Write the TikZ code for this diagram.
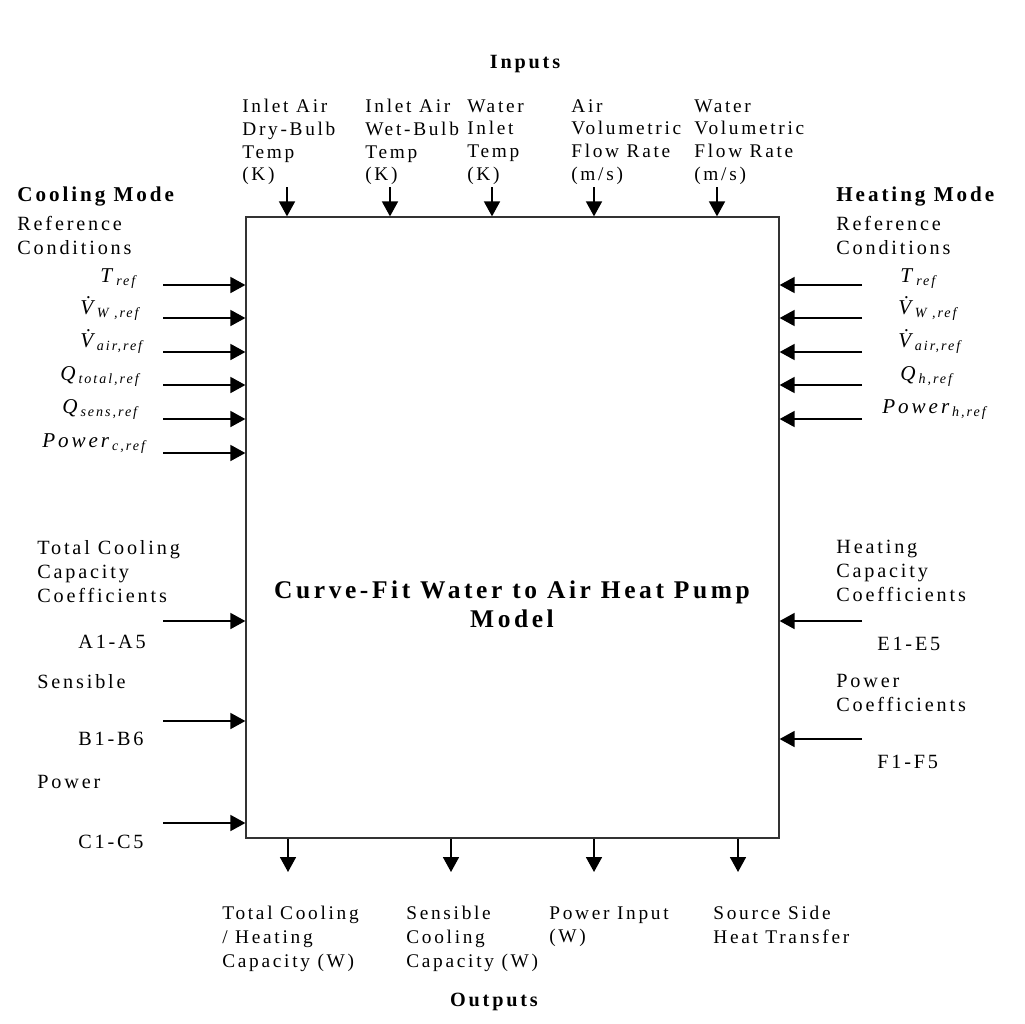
\documentclass[tikz,border=0pt]{standalone}
\usepackage{fontspec}
\setmainfont[LetterSpace=14]{Liberation Serif}
\usetikzlibrary{arrows.meta}
\newcommand{\sym}[2]{\textit{#1}\textsubscript{\textit{#2}}}
\newcommand{\vdt}[1]{\textit{V̇}\kern-3pt\textsubscript{\textit{#1}}}
\tikzset{
	feed/.style={draw=black, line width=0.35mm, -{Triangle[length=3mm,width=3.2mm]}},
	lbl/.style={anchor=north west, align=left, inner sep=0pt, font=\fontsize{11}{13.6}\selectfont},
	toplbl/.style={lbl, font=\fontsize{11}{12.9}\selectfont},
	coef/.style={lbl, font=\fontsize{11.5}{13.6}\selectfont},
	head/.style={anchor=north west, inner sep=0pt, font=\fontsize{12}{13.6}\selectfont\bfseries},
	sym/.style={anchor=base west, inner sep=0pt, font=\fontsize{12}{14}\selectfont},
}
\begin{document}
\begin{tikzpicture}[x=0.2mm, y=-0.2mm]
	\useasboundingbox (0,0) rectangle (1025,1023);
	\node[draw=black!80, line width=0.25mm, minimum width=106.6mm, minimum height=124.2mm, inner sep=0] (hp) at (512.5,527.5) {};
	\node[anchor=north, align=center, inner sep=0pt, font=\fontsize{14.5}{16.8}\selectfont\bfseries] (title) at (512,580) {Curve-Fit Water to Air Heat Pump\\Model};
	% inputs on top
	\node[anchor=north, inner sep=0pt, font=\fontsize{11.5}{13.6}\selectfont\bfseries] (inputs) at (525,55) {Inputs};
	\node[toplbl] (db) at (242,99) {Inlet Air\\Dry-Bulb\\Temp\\(K)};
	\node[toplbl] (wb) at (365,99) {Inlet Air\\Wet-Bulb\\Temp\\(K)};
	\node[toplbl] (wt) at (467,99) {Water\\Inlet\\Temp\\(K)};
	\node[toplbl] (af) at (571,99) {Air\\Volumetric\\Flow Rate\\(m/s)};
	\node[toplbl] (wf) at (694,99) {Water\\Volumetric\\Flow Rate\\(m/s)};
	\coordinate (i1) at (287,187);
	\coordinate (i2) at (390,187);
	\coordinate (i3) at (492,187);
	\coordinate (i4) at (594,187);
	\coordinate (i5) at (717,187);
	\draw[feed] (i1) -- (i1 |- hp.north);
	\draw[feed] (i2) -- (i2 |- hp.north);
	\draw[feed] (i3) -- (i3 |- hp.north);
	\draw[feed] (i4) -- (i4 |- hp.north);
	\draw[feed] (i5) -- (i5 |- hp.north);
	% cooling mode reference conditions
	\node[head] (cool) at (17,187) {Cooling Mode};
	\node[coef] (coolref) at (17,216) {Reference\\Conditions};
	\node[sym] (ct) at (100,282) {\sym{T}{ref}};
	\node[sym] (cvw) at (80,314) {\vdt{W ,ref}};
	\node[sym] (cva) at (80,347) {\vdt{air,ref}};
	\node[sym] (cqt) at (60,380) {\sym{Q}{total,ref}};
	\node[sym] (cqs) at (62,413) {\sym{Q}{sens,ref}};
	\node[sym] (cpw) at (42,447) {\sym{Power}{c,ref}};
	\coordinate (c1) at (163,285);
	\coordinate (c2) at (163,318);
	\coordinate (c3) at (163,352);
	\coordinate (c4) at (163,385);
	\coordinate (c5) at (163,419);
	\coordinate (c6) at (163,453);
	\draw[feed] (c1) -- (c1 -| hp.west);
	\draw[feed] (c2) -- (c2 -| hp.west);
	\draw[feed] (c3) -- (c3 -| hp.west);
	\draw[feed] (c4) -- (c4 -| hp.west);
	\draw[feed] (c5) -- (c5 -| hp.west);
	\draw[feed] (c6) -- (c6 -| hp.west);
	% heating mode reference conditions
	\node[head] (heat) at (836,187) {Heating Mode};
	\node[coef] (heatref) at (836,216) {Reference\\Conditions};
	\node[sym] (ht) at (900,282) {\sym{T}{ref}};
	\node[sym] (hvw) at (898,314) {\vdt{W ,ref}};
	\node[sym] (hva) at (898,347) {\vdt{air,ref}};
	\node[sym] (hq) at (900,380) {\sym{Q}{h,ref}};
	\node[sym] (hpw) at (882,413) {\sym{Power}{h,ref}};
	\coordinate (h1) at (862,285);
	\coordinate (h2) at (862,318);
	\coordinate (h3) at (862,352);
	\coordinate (h4) at (862,385);
	\coordinate (h5) at (862,419);
	\draw[feed] (h1) -- (h1 -| hp.east);
	\draw[feed] (h2) -- (h2 -| hp.east);
	\draw[feed] (h3) -- (h3 -| hp.east);
	\draw[feed] (h4) -- (h4 -| hp.east);
	\draw[feed] (h5) -- (h5 -| hp.east);
	% coefficients
	\node[coef] (tcc) at (37,540) {Total Cooling\\Capacity\\Coefficients};
	\node[coef] (ca) at (78,635) {A1-A5};
	\node[coef] (scc) at (37,674) {Sensible};
	\node[coef] (cb) at (78,732) {B1-B6};
	\node[coef] (pcc) at (37,775) {Power};
	\node[coef] (cc) at (78,835) {C1-C5};
	\coordinate (k1) at (163,621);
	\coordinate (k2) at (163,721);
	\coordinate (k3) at (163,823);
	\draw[feed] (k1) -- (k1 -| hp.west);
	\draw[feed] (k2) -- (k2 -| hp.west);
	\draw[feed] (k3) -- (k3 -| hp.west);
	\node[coef] (hcc) at (836,540) {Heating\\Capacity\\Coefficients};
	\node[coef] (ce) at (877,637) {E1-E5};
	\node[coef] (hpc) at (836,674) {Power\\Coefficients};
	\node[coef] (cf) at (877,755) {F1-F5};
	\coordinate (k4) at (862,621);
	\coordinate (k5) at (862,739);
	\draw[feed] (k4) -- (k4 -| hp.east);
	\draw[feed] (k5) -- (k5 -| hp.east);
	% outputs at the bottom
	\coordinate (o1) at (288,872);
	\coordinate (o2) at (451,872);
	\coordinate (o3) at (594,872);
	\coordinate (o4) at (738,872);
	\draw[feed] (o1 |- hp.south) -- (o1);
	\draw[feed] (o2 |- hp.south) -- (o2);
	\draw[feed] (o3 |- hp.south) -- (o3);
	\draw[feed] (o4 |- hp.south) -- (o4);
	\node[lbl] (tc) at (222,906) {Total Cooling\\/ Heating\\Capacity (W)};
	\node[lbl] (sc) at (406,906) {Sensible\\Cooling\\Capacity (W)};
	\node[lbl] (pi) at (549,906) {Power Input\\(W)};
	\node[lbl] (ss) at (713,906) {Source Side\\Heat Transfer};
	\node[anchor=north, inner sep=0pt, font=\fontsize{11.5}{13.6}\selectfont\bfseries] (outputs) at (494,993) {Outputs};
\end{tikzpicture}
\end{document}
